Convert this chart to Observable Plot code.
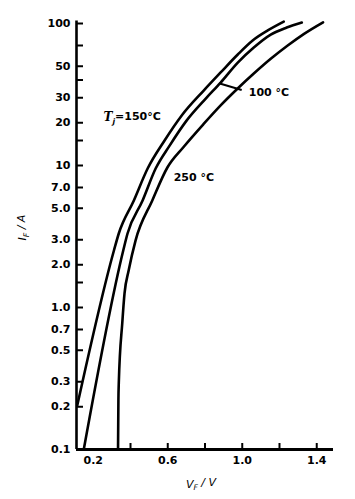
<!DOCTYPE html>
<html><head><meta charset="utf-8">
<script src="https://cdn.jsdelivr.net/npm/d3@7"></script>
<script src="https://cdn.jsdelivr.net/npm/@observablehq/plot@0.6"></script>
<style>html,body{margin:0;padding:0;background:#fff}</style>
</head><body><div id="chart"></div>
<script>
// Series: forward voltage (V) and forward current (A)
const seriesNames = ["T_j=150°C", "100 °C", "250 °C"];
const v150 = [0.114, 0.311, 0.337, 0.418, 0.492, 0.583, 0.675, 0.793, 0.884, 0.976, 1.056, 1.137, 1.223];
const i150 = [0.204, 2.52, 3.32, 5.67, 9.52, 15.0, 22.5, 33.7, 45.2, 60.5, 75.9, 89.3, 103];
const v100 = [0.149, 0.361, 0.384, 0.465, 0.535, 0.610, 0.701, 0.804, 0.884, 0.976, 1.062, 1.153, 1.239, 1.320];
const i100 = [0.1, 2.52, 3.32, 5.67, 9.52, 13.8, 20.7, 29.6, 38.4, 53.1, 67.8, 83.6, 93.7, 101.6];
const v250 = [0.333, 0.335, 0.337, 0.356, 0.368, 0.390, 0.427, 0.517, 0.598, 0.685, 0.794, 0.884, 0.974, 1.062, 1.153, 1.244, 1.332, 1.434];
const i250 = [0.1, 0.221, 0.292, 0.784, 1.26, 1.82, 2.96, 5.67, 9.68, 13.5, 19.7, 26.5, 34.7, 44.4, 56.4, 70.0, 84.6, 102];

// Axis ticks and labels
const yTicks = [100, 70, 50, 40, 30, 20, 15, 10, 7, 5, 3, 2, 1.5, 1, 0.7, 0.5, 0.3, 0.2, 0.1];
const yLabelValues = [100, 50, 30, 20, 10, 7, 5, 3, 2, 1, 0.7, 0.5, 0.3, 0.2, 0.1];
const yLabelTexts = ["100", "50", "30", "20", "10", "7.0", "5.0", "3.0", "2.0", "1.0", "0.7", "0.5", "0.3", "0.2", "0.1"];
const xTicks = [0.4, 0.6, 0.8, 1.0, 1.2, 1.4];
const xLabelValues = [0.2, 0.6, 1.0, 1.4];
const xLabelTexts = ["0.2", "0.6", "1.0", "1.4"];
const xTitle = "V_F / V";
const yTitle = "I_F / A";

// Annotation anchors (data coordinates)
const labelV = [0.255, 1.035, 0.632];
const labelI = [21.8, 32.7, 8.23];
const leaderV = [0.875, 0.997];
const leaderI = [38.0, 34.0];

const rows = [];
[[v150, i150], [v100, i100], [v250, i250]].forEach(([vs, is], k) => {
  vs.forEach((v, j) => rows.push({V: v, I: is[j], s: seriesNames[k]}));
});
const labels = seriesNames.map((t, k) => ({t, V: labelV[k], I: labelI[k]}));
const yLab = yLabelValues.map((v, k) => ({v, t: yLabelTexts[k]}));
const xLab = xLabelValues.map((v, k) => ({v, t: xLabelTexts[k]}));

const W = 355, H = 499, mL = 76, mR = 22, mT = 23, mB = 50;
const fw = W - mL - mR, fh = H - mT - mB;
const xDom = [0.11, 1.49];
const tickFont = {fontSize: 11, fontWeight: "bold", fontFamily: "DejaVu Sans"};

const chart = Plot.plot({
  width: W, height: H,
  marginLeft: mL, marginRight: mR, marginTop: mT, marginBottom: mB,
  style: {background: "#fff", color: "#000", overflow: "visible"},
  x: {domain: xDom, axis: null},
  y: {type: "log", domain: [0.1, 100], axis: null},
  marks: [
    Plot.line(rows, {x: "V", y: "I", z: "s", curve: "monotone-x", stroke: "#000", strokeWidth: 2.6}),
    Plot.ruleX([xDom[0]], {y1: 0.1, y2: 104, strokeWidth: 2.6}),
    Plot.ruleY([0.1], {x1: xDom[0], x2: xDom[1], strokeWidth: 3}),
    Plot.tickY(yTicks, {y: d => d, insetRight: fw - 7, strokeWidth: 2}),
    Plot.tickX(xTicks, {x: d => d, insetTop: fh - 6, strokeWidth: 2}),
    Plot.text(yLab, {y: "v", text: "t", frameAnchor: "left", dx: -6, textAnchor: "end", ...tickFont}),
    Plot.text(xLab, {x: "v", text: "t", frameAnchor: "bottom", dy: 14, ...tickFont}),
    Plot.text(labels, {x: "V", y: "I", text: "t", textAnchor: "start", ...tickFont}),
    Plot.link([0], {x1: () => leaderV[0], y1: () => leaderI[0], x2: () => leaderV[1], y2: () => leaderI[1], strokeWidth: 2}),
    Plot.text([yTitle], {text: d => d, frameAnchor: "left", dx: -54, dy: 4, rotate: -90, fontSize: 11, fontFamily: "DejaVu Sans"}),
    Plot.text([xTitle], {text: d => d, frameAnchor: "bottom", dx: -4, dy: 38, fontSize: 11, fontFamily: "DejaVu Sans"})
  ]
});

// subscripts: "X_s rest" -> italic X, subscript s, rest
const ns = "http://www.w3.org/2000/svg";
chart.querySelectorAll("text").forEach(el => {
  if (el.querySelector("tspan")) return;
  const m = el.textContent.match(/^(.*?)_(\w)(.*)$/);
  if (!m) return;
  el.textContent = "";
  const a = document.createElementNS(ns, "tspan");
  a.textContent = m[1];
  a.setAttribute("font-style", "italic");
  if (m[1] === "T") { a.setAttribute("font-family", "DejaVu Serif"); a.setAttribute("font-size", "12"); }
  const b = document.createElementNS(ns, "tspan");
  b.textContent = m[2];
  b.setAttribute("dy", "0.35em");
  b.setAttribute("font-size", "0.7em");
  b.setAttribute("font-style", "italic");
  const c = document.createElementNS(ns, "tspan");
  c.textContent = m[3];
  c.setAttribute("dy", "-0.35em");
  if (m[1] !== "T") c.setAttribute("font-style", "italic");
  el.append(a, b, c);
});
document.getElementById("chart").append(chart);
</script>
</body></html>
